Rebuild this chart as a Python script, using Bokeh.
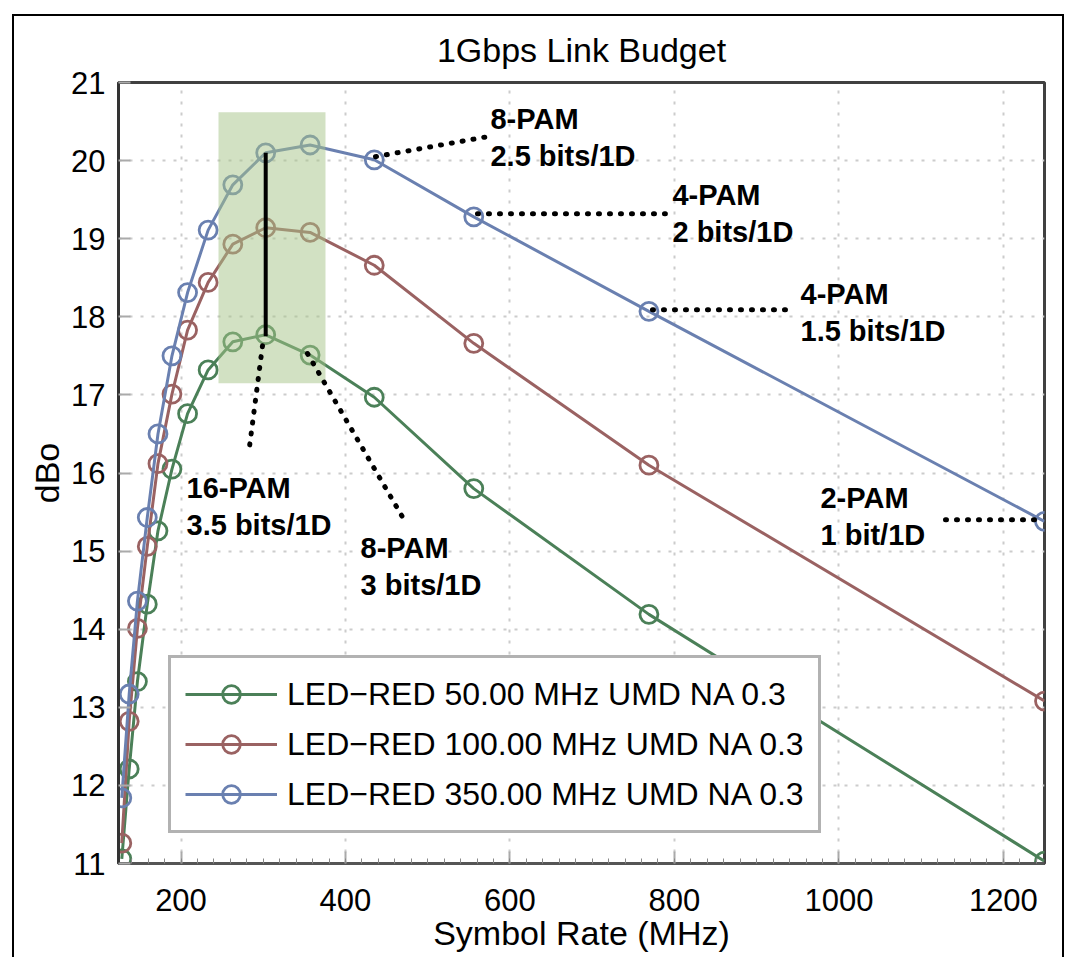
from bokeh.plotting import figure
from bokeh.models import (Range1d, FixedTicker, BoxAnnotation, Legend, LegendItem,
                          ColumnDataSource, InlineStyleSheet)
from bokeh.core.properties import value
from bokeh.embed import file_html
from bokeh.resources import INLINE

# ---------------- data ----------------
symbol_rate = [128, 137, 147, 159, 172, 189, 208, 233, 263, 303, 357, 435, 556, 769, 1250]
dbo_50 = [11.06, 12.21, 13.33, 14.32, 15.26, 16.05, 16.76, 17.32, 17.68, 17.77, 17.51, 16.97, 15.80, 14.19, 11.03]
dbo_100 = [11.26, 12.82, 14.01, 15.06, 16.12, 17.01, 17.83, 18.44, 18.93, 19.14, 19.08, 18.66, 17.66, 16.10, 13.08]
dbo_350 = [11.84, 13.17, 14.36, 15.43, 16.50, 17.50, 18.31, 19.11, 19.69, 20.10, 20.20, 20.01, 19.28, 18.07, 15.38]
series_names = ["LED\u2212RED 50.00 MHz UMD NA 0.3",
                "LED\u2212RED 100.00 MHz UMD NA 0.3",
                "LED\u2212RED 350.00 MHz UMD NA 0.3"]
x_ticks = [200, 400, 600, 800, 1000, 1200]
y_ticks = [11, 12, 13, 14, 15, 16, 17, 18, 19, 20, 21]

ann_text = ["16-PAM\n3.5 bits/1D", "8-PAM\n3 bits/1D", "8-PAM\n2.5 bits/1D",
            "4-PAM\n2 bits/1D", "4-PAM\n1.5 bits/1D", "2-PAM\n1 bit/1D"]
ann_x = [206.7, 418.3, 576.3, 797.6, 953.3, 977.6]
ann_y = [16.01, 15.24, 20.74, 19.76, 18.50, 15.88]
lead_x0 = [299.1, 353.8, 436.5, 560.5, 773.3, 1129.6]
lead_y0 = [17.63, 17.53, 20.05, 19.32, 18.09, 15.40]
lead_x1 = [282.1, 473.0, 580.0, 789.0, 941.0, 1247.5]
lead_y1 = [16.24, 15.37, 20.32, 19.32, 18.09, 15.40]

# ---------------- styles ----------------
colors = ["#4b8058", "#9a6262", "#6a80b0"]
FONT = "Liberation Sans"

p = figure(width=1066, height=957, output_backend="svg", toolbar_location=None,
           x_range=Range1d(124, 1250), y_range=Range1d(11, 21),
           min_border_left=118, min_border_right=22, min_border_top=82,
           min_border_bottom=94)

# outer black frame around the whole picture (no bottom edge visible in the reference)
p.stylesheets = [InlineStyleSheet(css="""
:host::after {
  content: "";
  position: absolute;
  left: 12px; top: 14px; right: 2px; bottom: 0px;
  border-style: solid;
  border-color: black;
  border-width: 2.5px 2.5px 0 2.5px;
  pointer-events: none;
  z-index: 100;
}
""")]

p.title.text = "1Gbps Link Budget"
p.title.align = "center"
p.title.text_font = FONT
p.title.text_font_size = "34px"
p.title.text_font_style = "normal"
p.title.text_color = "black"
p.title.standoff = 28

p.outline_line_color = "#404040"
p.outline_line_width = 3

for ax in (p.xaxis[0], p.yaxis[0]):
    ax.major_label_text_font = FONT
    ax.major_label_text_font_size = "31px"
    ax.major_label_text_color = "black"
    ax.axis_label_text_font = FONT
    ax.axis_label_text_font_size = "34px"
    ax.axis_label_text_font_style = "normal"
    ax.axis_label_text_color = "black"
    ax.major_tick_in = 12
    ax.major_tick_out = 0
    ax.major_tick_line_color = "#aaaaaa"
    ax.major_tick_line_width = 2
    ax.minor_tick_in = 5
    ax.minor_tick_out = 0
    ax.minor_tick_line_color = "#888888"

p.xaxis.axis_label = "Symbol Rate (MHz)"
p.yaxis.axis_label = "dBo"
p.xaxis.ticker = FixedTicker(ticks=x_ticks, minor_ticks=list(range(140, 1250, 20)))
p.yaxis.ticker = FixedTicker(ticks=y_ticks)
p.xaxis.axis_line_color = "#555555"
p.xaxis.axis_line_width = 3
p.yaxis.axis_line_color = "#333333"
p.yaxis.axis_line_width = 3
p.xaxis.major_label_standoff = 25
p.yaxis.major_label_standoff = 13
p.xaxis.axis_label_standoff = 0
p.yaxis.axis_label_standoff = 2

p.grid.grid_line_color = "#cccccc"
p.grid.grid_line_dash = "3 8"
p.grid.grid_line_width = 2

items = []
for ys, c, name in zip([dbo_50, dbo_100, dbo_350], colors, series_names):
    r_line = p.line(symbol_rate, ys, line_color=c, line_width=3)
    r_pts = p.scatter(symbol_rate, ys, marker="circle", size=18, fill_color=None,
                      line_color=c, line_width=2.8)
    items.append(LegendItem(label=name, renderers=[r_line, r_pts]))

# shaded region
box = BoxAnnotation(left=245.6, right=375.7, bottom=17.15, top=20.62,
                    fill_color="#a5c387", fill_alpha=0.5, line_color=None)
p.add_layout(box)

# vertical black line
vl = p.segment(x0=[303], y0=[20.10], x1=[303], y1=[17.75], line_color="black", line_width=4)
vl.level = "overlay"

# dotted leader lines
dl = p.segment(x0=lead_x0, y0=lead_y0, x1=lead_x1, y1=lead_y1, line_color="black",
               line_width=5, line_dash="1 10", line_cap="round")
dl.level = "overlay"

src = ColumnDataSource(dict(x=ann_x, y=ann_y, t=ann_text))
p.text(x="x", y="y", text="t", source=src, text_font=value(FONT), text_font_size="29px",
       text_font_style="bold", text_color="black", text_align="left",
       text_baseline="top", text_line_height=1.15)

legend = Legend(items=items, location=(50, 30), margin=0)
legend.label_text_font = FONT
legend.label_text_font_size = "32px"
legend.label_text_color = "black"
legend.glyph_width = 92
legend.glyph_height = 44
legend.label_height = 44
legend.label_width = 515
legend.label_standoff = 10
legend.spacing = 6
legend.padding = 14
legend.border_line_color = "#666666"
legend.border_line_width = 3
legend.background_fill_color = "white"
legend.background_fill_alpha = 1.0
p.add_layout(legend, "center")

open("out.html", "w").write(file_html(p, INLINE))
